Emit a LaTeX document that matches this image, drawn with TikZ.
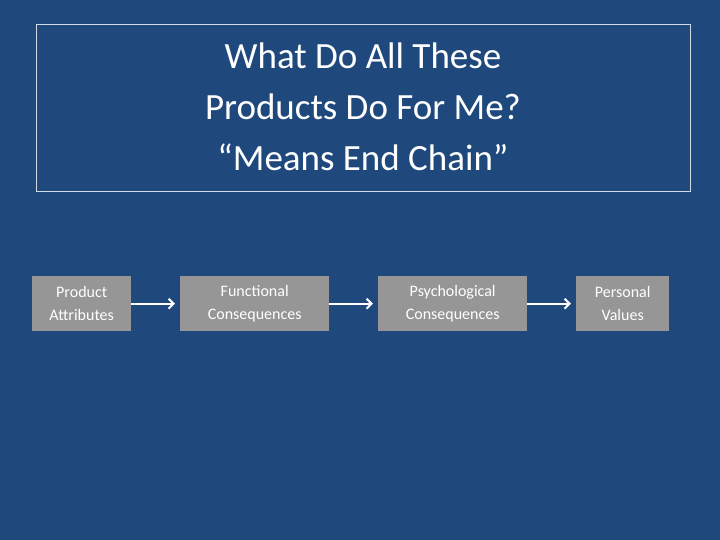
\documentclass[tikz,border=0pt]{standalone}
\usepackage{fontspec}
\setmainfont{Carlito}
\usetikzlibrary{arrows.meta}
\definecolor{bg}{HTML}{1F497D}
\definecolor{boxg}{HTML}{969696}
\begin{document}
\begin{tikzpicture}[x=1pt,y=-1pt,
  stepbox/.style={fill=boxg,text=white,font=\fontsize{16}{23}\selectfont,align=center,inner sep=0pt,anchor=north west},
  conn/.style={draw=white,line width=2pt,-{Straight Barb[length=5pt,width=10pt]}}]
\fill[bg] (0,0) rectangle (720,540);
\useasboundingbox (0,0) rectangle (720,540);
\node[draw=white!80!bg,line width=1pt,minimum width=654pt,minimum height=167pt,anchor=north west,inner sep=0pt] (title) at (36,24) {};
\node[text=white,font=\fontsize{37}{51}\selectfont,align=center] (tt) at (363,107) {What Do All These\\Products Do For Me?\\“Means End Chain”};
\node[stepbox,minimum width=99pt,minimum height=55pt] (a) at (32,276) {Product\\Attributes};
\node[stepbox,minimum width=149pt,minimum height=55pt] (b) at (180,276) {Functional\\Consequences};
\node[stepbox,minimum width=149pt,minimum height=55pt] (c) at (378,276) {Psychological\\Consequences};
\node[stepbox,minimum width=93pt,minimum height=55pt] (d) at (576,276) {Personal\\Values};
\draw[conn] (a.east) -- ([xshift=-5pt]b.west);
\draw[conn] (b.east) -- ([xshift=-5pt]c.west);
\draw[conn] (c.east) -- ([xshift=-5pt]d.west);
\end{tikzpicture}
\end{document}
